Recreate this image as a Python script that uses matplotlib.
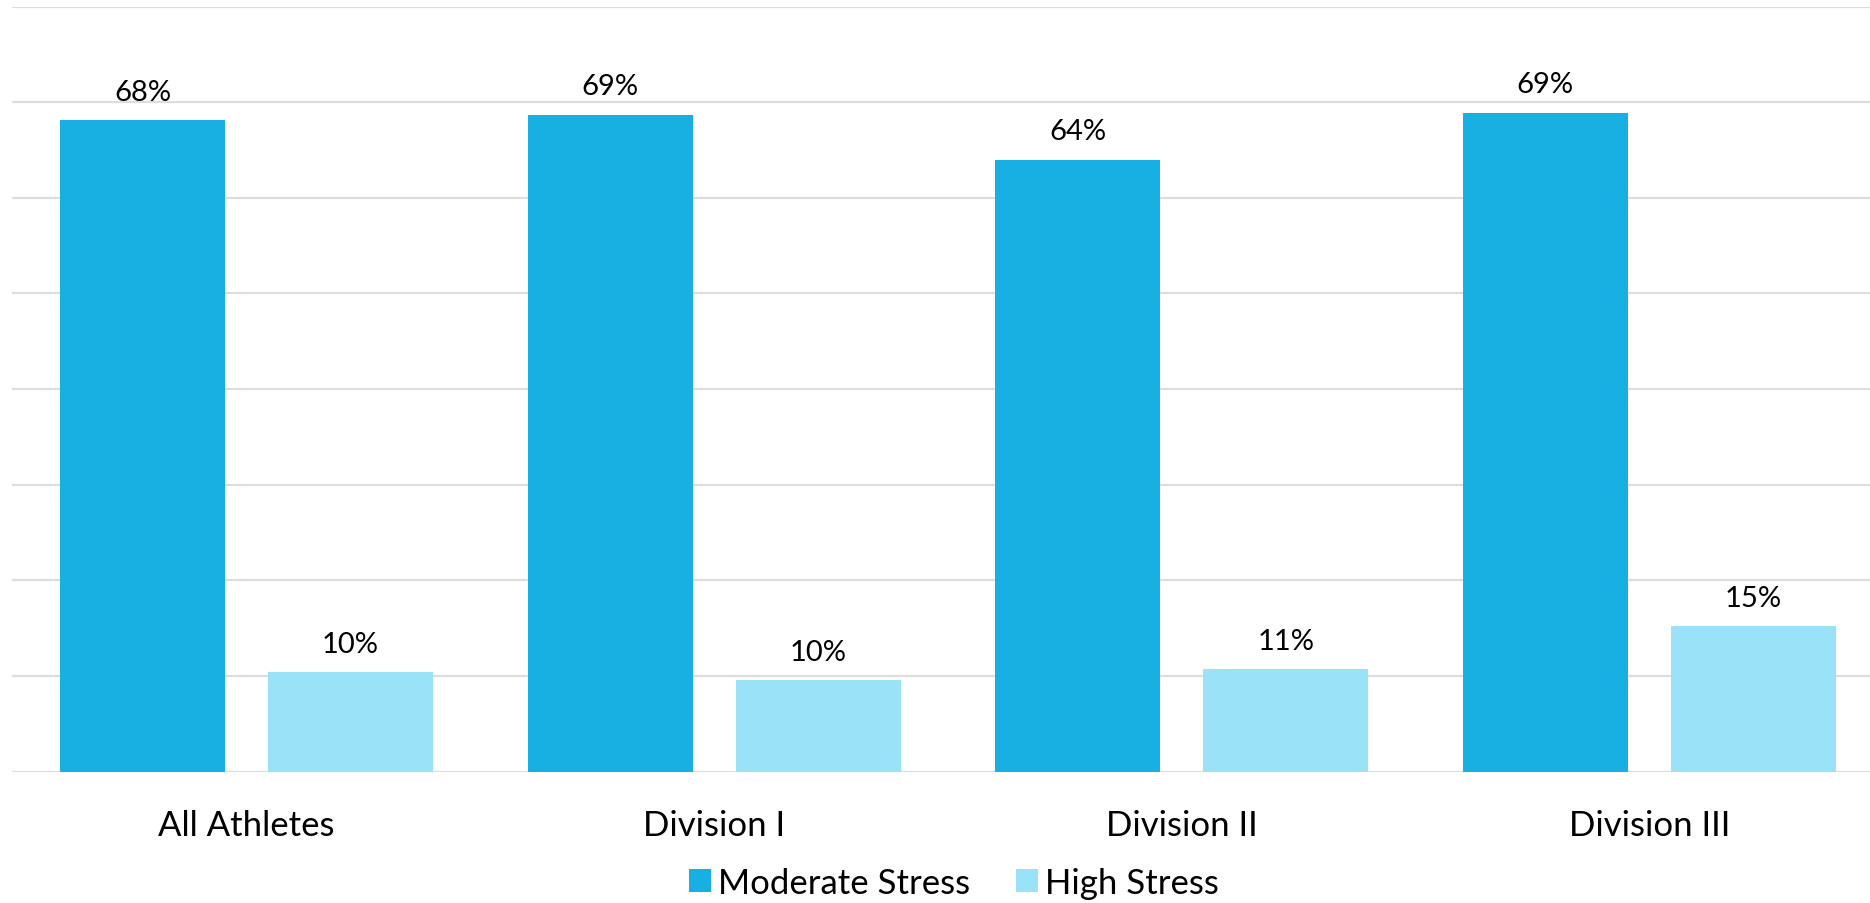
import matplotlib
matplotlib.use("Agg")
import matplotlib.pyplot as plt
import numpy as np

categories = ["All Athletes", "Division I", "Division II", "Division III"]
moderate = [68.1, 68.7, 64.0, 68.9]
high = [10.4, 9.6, 10.7, 15.2]
moderate_labels = ["68%", "69%", "64%", "69%"]
high_labels = ["10%", "10%", "11%", "15%"]
series_names = ["Moderate Stress", "High Stress"]

c_mod = "#18AFE3"
c_high = "#99E2F8"
grid_c = "#DDDDDD"

plt.rcParams['font.family'] = ['Lato', 'DejaVu Sans']

W, H = 1870, 904
fig = plt.figure(figsize=(W / 100, H / 100), dpi=100)
left_px, right_px = 12, 1870
bottom_px, top_px = 772.8, 7.5
ax = fig.add_axes([left_px / W, 1 - bottom_px / H, (right_px - left_px) / W, (bottom_px - top_px) / H])

x = np.arange(len(categories))
bw = 0.353
off = 0.2224
b1 = ax.bar(x - off, moderate, bw, color=c_mod, label=series_names[0], zorder=3)
b2 = ax.bar(x + off, high, bw, color=c_high, label=series_names[1], zorder=3)

for rect, lab in zip(b1, moderate_labels):
    ax.annotate(lab, (rect.get_x() + rect.get_width() / 2, rect.get_height()),
                xytext=(0, 11), textcoords="offset points", ha="center", va="bottom",
                fontsize=21, color="black")
for rect, lab in zip(b2, high_labels):
    ax.annotate(lab, (rect.get_x() + rect.get_width() / 2, rect.get_height()),
                xytext=(0, 11), textcoords="offset points", ha="center", va="bottom",
                fontsize=21, color="black")

ax.set_ylim(0, 80)
ax.set_yticks(np.arange(0, 81, 10))
ax.set_xlim(-0.5015, (right_px - 246.5) / 467.6)
ax.yaxis.grid(True, color=grid_c, linewidth=1.6, zorder=0)
ax.set_axisbelow(True)
for s in ax.spines.values():
    s.set_visible(False)
ax.tick_params(axis='y', left=False, labelleft=False)
ax.tick_params(axis='x', bottom=False, pad=23, labelsize=25)
ax.set_xticks(x)
ax.set_xticklabels(categories)

fig.legend(handles=[b1, b2], labels=series_names, loc="center",
           bbox_to_anchor=(954 / W, 1 - 884 / H), ncol=2, frameon=False,
           fontsize=25, handlelength=0.64, handleheight=0.64, handletextpad=0.2,
           columnspacing=1.3, borderaxespad=0)

fig.savefig("out.png", dpi=100, facecolor="white")
